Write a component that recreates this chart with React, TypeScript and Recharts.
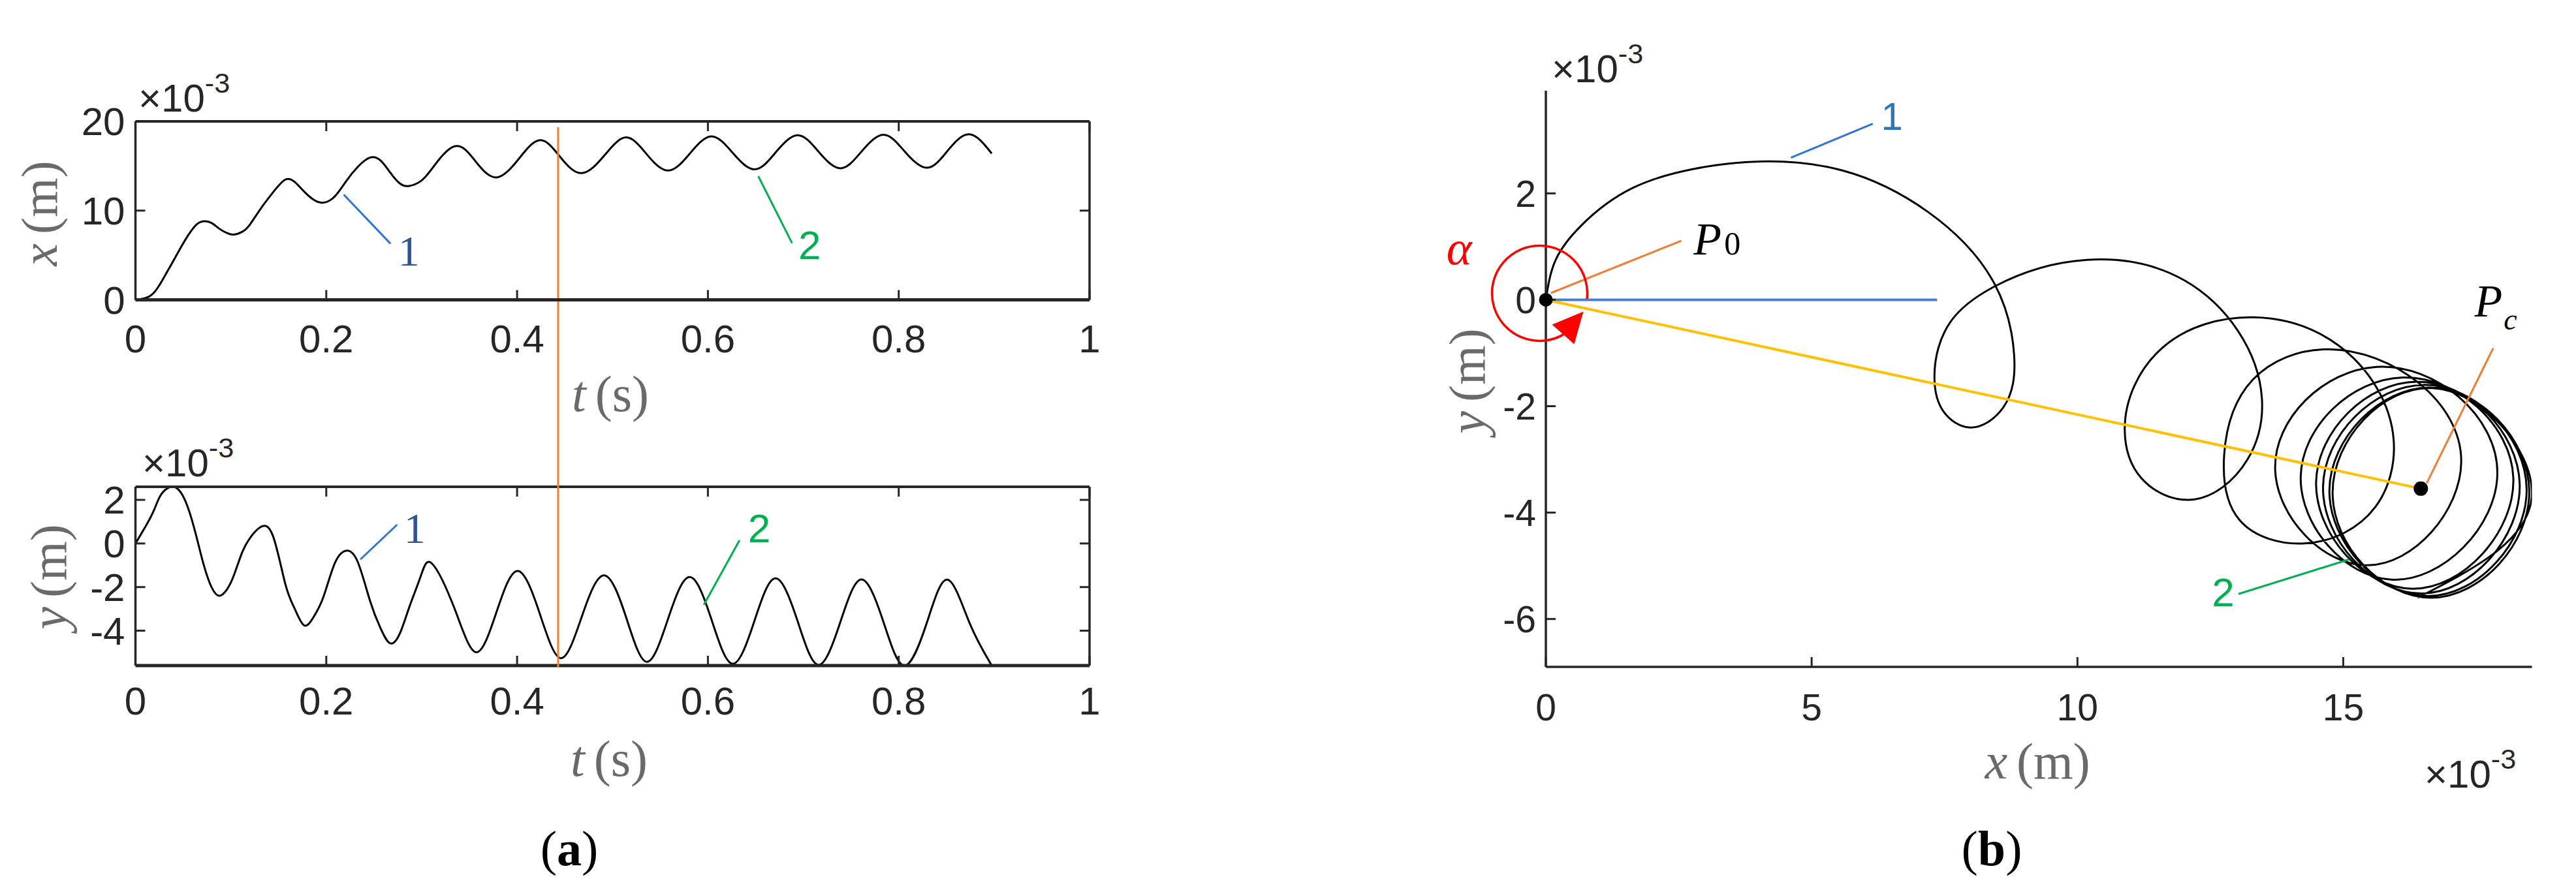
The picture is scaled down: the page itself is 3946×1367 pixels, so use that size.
import React from 'react';
import { LineChart, Line, XAxis, YAxis, ReferenceLine, ReferenceDot } from 'recharts';

// ---------------- data (x, y in 1e-3 m, t in s) ----------------
const T = [0, 0.010, 0.018, 0.025, 0.031, 0.038, 0.046, 0.055, 0.064, 0.072, 0.080, 0.088, 0.096, 0.103, 0.112, 0.120, 0.131, 0.144, 0.157, 0.167, 0.177, 0.187, 0.197, 0.209, 0.221, 0.233, 0.246, 0.257, 0.267, 0.277, 0.287, 0.299, 0.311, 0.335, 0.357, 0.378, 0.4005, 0.424, 0.446, 0.468, 0.491, 0.514, 0.536, 0.5585, 0.581, 0.6036, 0.626, 0.649, 0.671, 0.694, 0.716, 0.739, 0.761, 0.784, 0.806, 0.8296, 0.851, 0.874, 0.8975];
const XS = [0, 0.18, 0.66, 1.63, 2.73, 4.04, 5.58, 7.19, 8.44, 8.81, 8.6, 7.96, 7.48, 7.31, 7.63, 8.44, 10.18, 12.02, 13.47, 13.2, 12.11, 11.2, 10.89, 11.6, 13.32, 14.9, 15.95, 15.6, 14.27, 13.05, 12.76, 13.3, 14.72, 17.22, 15.45, 13.72, 15.63, 17.9, 15.9, 14.2, 16.12, 18.2, 16.3, 14.49, 16.38, 18.32, 16.47, 14.62, 16.52, 18.45, 16.6, 14.74, 16.62, 18.5, 16.66, 14.8, 16.68, 18.55, 16.4];
const YS = [0, 0.74, 1.39, 2.10, 2.45, 2.6, 2.43, 1.65, 0.3, -1.05, -2.03, -2.40, -2.10, -1.48, -0.39, 0.25, 0.75, 0.36, -1.85, -3.0, -3.76, -3.35, -2.45, -0.9, -0.33, -0.85, -2.65, -3.9, -4.58, -4.14, -2.92, -1.5, -0.93, -3.05, -4.99, -3.2, -1.26, -3.25, -5.26, -3.33, -1.46, -3.35, -5.43, -3.42, -1.54, -3.47, -5.52, -3.52, -1.6, -3.56, -5.57, -3.58, -1.65, -3.6, -5.6, -3.62, -1.66, -3.62, -5.6];

const T_TICKS = [0, 0.2, 0.4, 0.6, 0.8, 1];
const XA_TICKS = [0, 10, 20];
const YA_TICKS = [-4, -2, 0, 2];
const XB_TICKS = [0, 5, 10, 15];
const YB_TICKS = [-6, -4, -2, 0, 2];

const T_DOMAIN = [0, 1];
const XA_DOMAIN = [0, 20];
const YA_DOMAIN = [-5.6, 2.6];
const XB_DOMAIN = [0, 18.55];
const YB_DOMAIN = [-6.9, 3.93];

const MARK_T = 0.443;              // orange time marker
const PC = { x: 16.46, y: -3.55 }; // centre point Pc
const BLUE_END = 7.36;             // reference direction line length

const rows = T.map((t, i) => ({ t, x: XS[i], y: YS[i] }));

// ---------------- chord-length natural cubic spline (curve factory for the x-y trajectory) ----------------
function splineSlopes(v: number[], h: number[]) {
  const n = v.length;
  const a = new Array(n).fill(0), b = new Array(n).fill(0), c = new Array(n).fill(0), r = new Array(n).fill(0);
  b[0] = 2; c[0] = 1; r[0] = (3 * (v[1] - v[0])) / h[0];
  for (let i = 1; i < n - 1; i++) {
    const d0 = (v[i] - v[i - 1]) / h[i - 1];
    const d1 = (v[i + 1] - v[i]) / h[i];
    a[i] = h[i];
    b[i] = 2 * (h[i - 1] + h[i]);
    c[i] = h[i - 1];
    r[i] = 3 * (h[i] * d0 + h[i - 1] * d1);
  }
  a[n - 1] = 1; b[n - 1] = 2; r[n - 1] = (3 * (v[n - 1] - v[n - 2])) / h[n - 2];
  for (let i = 1; i < n; i++) {
    const w = a[i] / b[i - 1];
    b[i] -= w * c[i - 1];
    r[i] -= w * r[i - 1];
  }
  const m = new Array(n).fill(0);
  m[n - 1] = r[n - 1] / b[n - 1];
  for (let i = n - 2; i >= 0; i--) m[i] = (r[i] - c[i] * m[i + 1]) / b[i];
  return m;
}

function curveChordNatural(context: any) {
  let xs: number[] = [];
  let ys: number[] = [];
  return {
    areaStart() {},
    areaEnd() {},
    lineStart() { xs = []; ys = []; },
    point(x: number, y: number) { xs.push(+x); ys.push(+y); },
    lineEnd() {
      const n = xs.length;
      if (!n) return;
      context.moveTo(xs[0], ys[0]);
      if (n === 1) return;
      if (n === 2) { context.lineTo(xs[1], ys[1]); return; }
      const h: number[] = [];
      for (let i = 0; i < n - 1; i++) h.push(Math.max(1e-6, Math.hypot(xs[i + 1] - xs[i], ys[i + 1] - ys[i])));
      const mx = splineSlopes(xs, h);
      const my = splineSlopes(ys, h);
      for (let i = 0; i < n - 1; i++) {
        const k = h[i] / 3;
        context.bezierCurveTo(xs[i] + mx[i] * k, ys[i] + my[i] * k, xs[i + 1] - mx[i + 1] * k, ys[i + 1] - my[i + 1] * k, xs[i + 1], ys[i + 1]);
      }
    },
  };
}

// ---------------- styles ----------------
const AXIS = '#262626';
const SANS = '"Liberation Sans", Arial, Helvetica, sans-serif';
const SERIF = '"Liberation Serif", "Times New Roman", serif';
const GRAYLBL = '#6a6a6a';
const ORANGE = '#F47C30';
const GREEN = '#00B050';
const BLUE_LINE = '#2F74D0';
const BLUE_TXT = '#2F5597';
const YELLOW = '#FFC000';

const tickLine = { stroke: AXIS, strokeWidth: 3 };
const axisLine = (w: number) => ({ stroke: AXIS, strokeWidth: w });
const tickStyle = (fs: number) => ({ fill: AXIS, fontSize: fs, fontFamily: SANS });
const blank = () => '';

const txt = (content: any, o: any) => (p: any) => (
  <text
    x={p.cx}
    y={p.cy}
    textAnchor={o.anchor || 'middle'}
    dominantBaseline={o.baseline || 'central'}
    fontFamily={o.font || SANS}
    fontSize={o.size || 60}
    fontStyle={o.italic ? 'italic' : 'normal'}
    fill={o.color || '#000'}
  >
    {content}
  </text>
);

const AlphaArc = (p: any) => {
  const { cx, cy } = p;
  const r = 73;
  const a0 = (-7 * Math.PI) / 180;
  const a1 = (-60 * Math.PI) / 180;
  const sx = cx + r * Math.cos(a0);
  const sy = cy - r * Math.sin(a0);
  const ex = cx + r * Math.cos(a1);
  const ey = cy - r * Math.sin(a1);
  return (
    <g>
      <path d={`M${sx},${sy} A${r},${r} 0 1 0 ${ex},${ey}`} fill="none" stroke="#FF0000" strokeWidth={3.5} />
      <polygon points={`${cx + 67},${cy + 28} ${cx + 19},${cy + 48} ${cx + 53},${cy + 78}`} fill="#FF0000" />
    </g>
  );
};

const Exp = ({ x, y, fs = 60 }: any) => (
  <text x={x} y={y} fontFamily={SANS} fontSize={fs} fill={AXIS}>
    ×10
    <tspan dy={-29} fontSize={fs * 0.72}>-3</tspan>
  </text>
);

const AxLabel = ({ x, y, v, u, rot }: any) => (
  <text
    transform={`translate(${x},${y})${rot ? ' rotate(-90)' : ''}`}
    textAnchor="middle"
    dominantBaseline="central"
    fontFamily={SERIF}
    fontSize={78}
    fill={GRAYLBL}
  >
    <tspan fontStyle="italic">{v}</tspan>
    <tspan dx={14}>({u})</tspan>
  </text>
);

function TopA() {
  return (
    <div style={{ position: 'absolute', left: 0, top: 0, zIndex: 2 }}>
      <LineChart width={1800} height={1100} data={rows} margin={{ top: 185, right: 130, bottom: 540.5, left: 57.5 }}>
        <XAxis xAxisId="b" dataKey="t" type="number" domain={T_DOMAIN} ticks={T_TICKS} interval={0} height={100}
          tickSize={-15} tickMargin={53} axisLine={axisLine(5)} tickLine={tickLine} tick={tickStyle(60)} allowDataOverflow />
        <XAxis xAxisId="t" orientation="top" dataKey="t" type="number" domain={T_DOMAIN} ticks={T_TICKS} interval={0} height={1}
          tickSize={-15} tickFormatter={blank} axisLine={axisLine(4)} tickLine={tickLine} allowDataOverflow />
        <YAxis yAxisId="l" type="number" domain={XA_DOMAIN} ticks={XA_TICKS} interval={0} width={150}
          tickSize={-15} tickMargin={31} axisLine={axisLine(3.5)} tickLine={tickLine} tick={tickStyle(60)} allowDataOverflow />
        <YAxis yAxisId="r" orientation="right" type="number" domain={XA_DOMAIN} ticks={XA_TICKS} interval={0} width={1}
          tickSize={-15} tickFormatter={blank} axisLine={axisLine(3.5)} tickLine={tickLine} allowDataOverflow />
        <Line xAxisId="b" yAxisId="l" dataKey="x" type="natural" stroke="#000" strokeWidth={3} dot={false} isAnimationActive={false} />
        <ReferenceLine xAxisId="b" yAxisId="l" segment={[{ x: 0.2183, y: 11.79 }, { x: 0.2673, y: 6.3 }]} stroke={BLUE_LINE} strokeWidth={3} ifOverflow="visible" />
        <ReferenceDot xAxisId="b" yAxisId="l" x={0.2865} y={5.45} r={0} ifOverflow="visible" shape={txt('1', { font: SERIF, size: 66, color: BLUE_TXT })} />
        <ReferenceLine xAxisId="b" yAxisId="l" segment={[{ x: 0.6528, y: 13.86 }, { x: 0.6882, y: 6.35 }]} stroke={GREEN} strokeWidth={3} ifOverflow="visible" />
        <ReferenceDot xAxisId="b" yAxisId="l" x={0.7067} y={6.12} r={0} ifOverflow="visible" shape={txt('2', { size: 62, color: GREEN })} />
        <ReferenceLine xAxisId="b" yAxisId="l" segment={[{ x: MARK_T, y: 19.34 }, { x: MARK_T, y: -41.2 }]} stroke={ORANGE} strokeWidth={3} ifOverflow="visible" />
      </LineChart>
    </div>
  );
}

function BottomA() {
  return (
    <div style={{ position: 'absolute', left: 0, top: 600, zIndex: 1 }}>
      <LineChart width={1800} height={600} data={rows} margin={{ top: 145, right: 130, bottom: 80, left: 57.5 }}>
        <XAxis xAxisId="b" dataKey="t" type="number" domain={T_DOMAIN} ticks={T_TICKS} interval={0} height={100}
          tickSize={-15} tickMargin={47} axisLine={axisLine(5)} tickLine={tickLine} tick={tickStyle(60)} allowDataOverflow />
        <XAxis xAxisId="t" orientation="top" dataKey="t" type="number" domain={T_DOMAIN} ticks={T_TICKS} interval={0} height={1}
          tickSize={-15} tickFormatter={blank} axisLine={axisLine(4)} tickLine={tickLine} allowDataOverflow />
        <YAxis yAxisId="l" type="number" domain={YA_DOMAIN} ticks={YA_TICKS} interval={0} width={150}
          tickSize={-15} tickMargin={31} axisLine={axisLine(3.5)} tickLine={tickLine} tick={tickStyle(60)} allowDataOverflow />
        <YAxis yAxisId="r" orientation="right" type="number" domain={YA_DOMAIN} ticks={YA_TICKS} interval={0} width={1}
          tickSize={-15} tickFormatter={blank} axisLine={axisLine(3.5)} tickLine={tickLine} allowDataOverflow />
        <Line xAxisId="b" yAxisId="l" dataKey="y" type="natural" stroke="#000" strokeWidth={3} dot={false} isAnimationActive={false} />
        <ReferenceLine xAxisId="b" yAxisId="l" segment={[{ x: 0.2358, y: -0.73 }, { x: 0.2743, y: 0.864 }]} stroke={BLUE_LINE} strokeWidth={3} ifOverflow="visible" />
        <ReferenceDot xAxisId="b" yAxisId="l" x={0.2926} y={0.71} r={0} ifOverflow="visible" shape={txt('1', { font: SERIF, size: 66, color: BLUE_TXT })} />
        <ReferenceLine xAxisId="b" yAxisId="l" segment={[{ x: 0.5958, y: -2.81 }, { x: 0.6331, y: 0.146 }]} stroke={GREEN} strokeWidth={3} ifOverflow="visible" />
        <ReferenceDot xAxisId="b" yAxisId="l" x={0.6537} y={0.71} r={0} ifOverflow="visible" shape={txt('2', { size: 62, color: GREEN })} />
      </LineChart>
    </div>
  );
}

function PanelB() {
  return (
    <div style={{ position: 'absolute', left: 2100, top: 0, zIndex: 1 }}>
      <LineChart width={1846} height={1367} data={rows} margin={{ top: 139, right: 67.5, bottom: 245, left: 118 }}>
        <XAxis dataKey="x" type="number" domain={XB_DOMAIN} ticks={XB_TICKS} interval={0} height={100}
          tickSize={-15} tickMargin={57} axisLine={axisLine(3.5)} tickLine={tickLine} tick={tickStyle(57)} allowDataOverflow />
        <YAxis type="number" domain={YB_DOMAIN} ticks={YB_TICKS} interval={0} width={150}
          tickSize={-15} tickMargin={30} axisLine={axisLine(3.5)} tickLine={tickLine} tick={tickStyle(57)} allowDataOverflow />
        <Line dataKey="y" type={curveChordNatural as any} stroke="#000" strokeWidth={3} dot={false} isAnimationActive={false} />
        <ReferenceLine segment={[{ x: 0, y: 0 }, { x: BLUE_END, y: 0 }]} stroke="#4A7DCC" strokeWidth={4} ifOverflow="visible" />
        <ReferenceLine segment={[{ x: 0, y: 0 }, { x: PC.x, y: PC.y }]} stroke={YELLOW} strokeWidth={4} ifOverflow="visible" />
        <ReferenceLine segment={[{ x: 0.095, y: 0.128 }, { x: 2.55, y: 1.11 }]} stroke={ORANGE} strokeWidth={3} ifOverflow="visible" />
        <ReferenceLine segment={[{ x: 16.57, y: -3.45 }, { x: 17.82, y: -0.91 }]} stroke={ORANGE} strokeWidth={3} ifOverflow="visible" />
        <ReferenceLine segment={[{ x: 4.61, y: 2.67 }, { x: 6.15, y: 3.31 }]} stroke={BLUE_LINE} strokeWidth={3} ifOverflow="visible" />
        <ReferenceLine segment={[{ x: 13.03, y: -5.53 }, { x: 15.11, y: -4.88 }]} stroke={GREEN} strokeWidth={3} ifOverflow="visible" />
        <ReferenceDot x={-0.117} y={0.123} r={0} ifOverflow="visible" shape={AlphaArc} />
        <ReferenceDot x={0} y={0} r={10.5} fill="#000" stroke="none" ifOverflow="visible" />
        <ReferenceDot x={PC.x} y={PC.y} r={11} fill="#000" stroke="none" ifOverflow="visible" />
        <ReferenceDot x={6.51} y={3.44} r={0} ifOverflow="visible" shape={txt('1', { size: 60, color: '#2E75B6' })} />
        <ReferenceDot x={12.74} y={-5.5} r={0} ifOverflow="visible" shape={txt('2', { size: 62, color: GREEN })} />
        <ReferenceDot x={-1.63} y={0.97} r={0} ifOverflow="visible"
          shape={txt('α', { font: SERIF, size: 74, italic: true, color: '#FF0000' })} />
        <ReferenceDot x={2.78} y={0.85} r={0} ifOverflow="visible"
          shape={txt(<><tspan fontStyle="italic">P</tspan><tspan fontSize={50} dx={4}>0</tspan></>, { font: SERIF, size: 70, anchor: 'start', baseline: 'alphabetic' })} />
        <ReferenceDot x={17.47} y={-0.31} r={0} ifOverflow="visible"
          shape={txt(<><tspan fontStyle="italic">P</tspan><tspan fontStyle="italic" fontSize={46} dy={20} dx={2}>c</tspan></>, { font: SERIF, size: 70, anchor: 'start', baseline: 'alphabetic' })} />
      </LineChart>
    </div>
  );
}

function Overlay() {
  return (
    <svg width={3946} height={1367} style={{ position: 'absolute', left: 0, top: 0, zIndex: 3, pointerEvents: 'none' }}>
      <Exp x={212} y={171} />
      <Exp x={218} y={730} />
      <Exp x={2377} y={126} />
      <Exp x={3714} y={1207} />
      <AxLabel x={60} y={327} v="x" u="m" rot />
      <AxLabel x={74} y={884} v="y" u="m" rot />
      <AxLabel x={935} y={603} v="t" u="s" />
      <AxLabel x={933} y={1162} v="t" u="s" />
      <AxLabel x={2247} y={584} v="y" u="m" rot />
      <AxLabel x={3121} y={1166} v="x" u="m" />
      <text x={872} y={1300} textAnchor="middle" dominantBaseline="central" fontFamily={SERIF} fontSize={76} fill="#000">
        (<tspan fontWeight="bold">a</tspan>)
      </text>
      <text x={3051} y={1300} textAnchor="middle" dominantBaseline="central" fontFamily={SERIF} fontSize={76} fill="#000">
        (<tspan fontWeight="bold">b</tspan>)
      </text>
    </svg>
  );
}

export default function App() {
  return (
    <div style={{ position: 'absolute', left: 0, top: 0, width: 3946, height: 1367, background: '#fff', overflow: 'hidden' }}>
      <BottomA />
      <PanelB />
      <TopA />
      <Overlay />
    </div>
  );
}
